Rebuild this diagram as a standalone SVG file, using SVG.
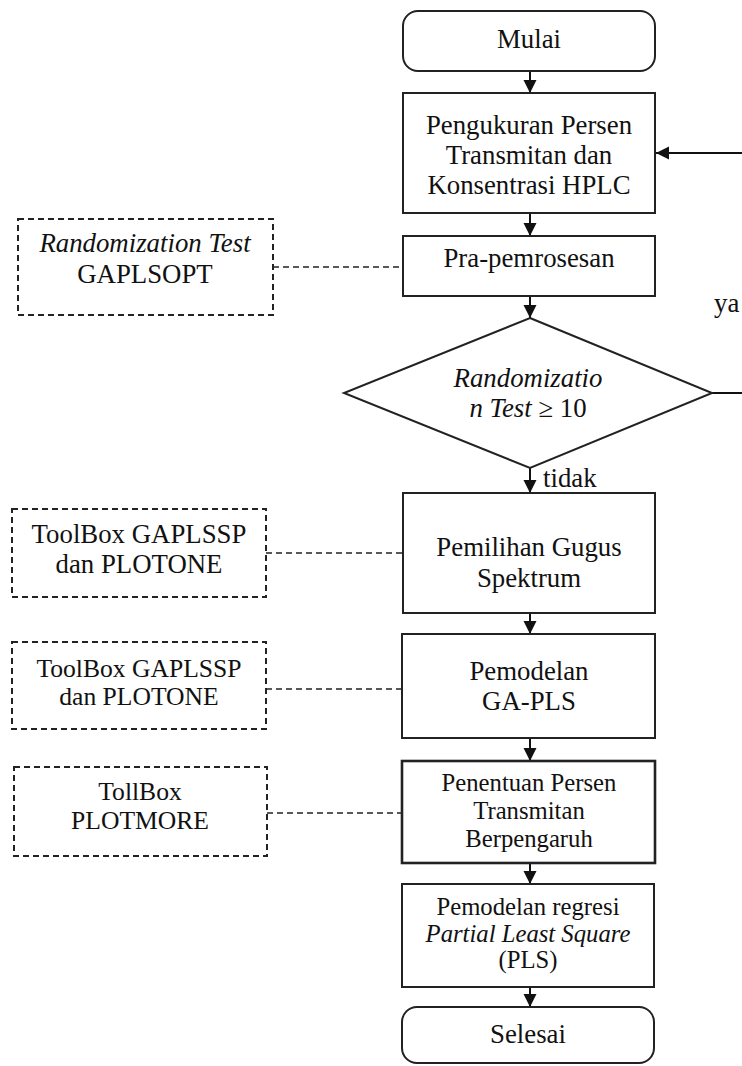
<svg xmlns="http://www.w3.org/2000/svg" width="742" height="1066" viewBox="0 0 742 1066">
<style>
text{font-family:"Liberation Serif","Times New Roman",serif;fill:#111;text-anchor:middle;font-size:26.8px}
.it{font-style:italic}
.s24{font-size:24.7px}
.s25{font-size:25.6px}
.box{fill:#fff;stroke:#222;stroke-width:2}
.dbox{fill:#fff;stroke:#222;stroke-width:2;stroke-dasharray:6 4}
.ln{fill:none;stroke:#111;stroke-width:2}
.dl{fill:none;stroke:#222;stroke-width:1.6;stroke-dasharray:6 4}
</style>
<defs>
<marker id="ah" markerUnits="userSpaceOnUse" markerWidth="14" markerHeight="14" refX="13" refY="6.5" orient="auto">
<path d="M0,0 L13,6.5 L0,13 z" fill="#111"/>
</marker>
</defs>
<rect width="742" height="1066" fill="#fff"/>
<g id="connectors">
<line class="ln" x1="530" y1="71" x2="530" y2="93" marker-end="url(#ah)"/>
<line class="ln" x1="530" y1="213" x2="530" y2="236" marker-end="url(#ah)"/>
<line class="ln" x1="530" y1="296" x2="530" y2="318" marker-end="url(#ah)"/>
<line class="ln" x1="530" y1="468" x2="530" y2="493" marker-end="url(#ah)"/>
<line class="ln" x1="530" y1="613" x2="530" y2="634" marker-end="url(#ah)"/>
<line class="ln" x1="530" y1="738" x2="530" y2="761" marker-end="url(#ah)"/>
<line class="ln" x1="530" y1="863" x2="530" y2="884" marker-end="url(#ah)"/>
<line class="ln" x1="530" y1="987" x2="530" y2="1007" marker-end="url(#ah)"/>
<path class="ln" d="M712,393 H760 V153 H656" marker-end="url(#ah)"/>
<text x="714" y="312" style="text-anchor:start">ya</text>
<text x="543" y="487" style="text-anchor:start">tidak</text>
<line class="dl" x1="273" y1="267" x2="403" y2="267"/>
<line class="dl" x1="266" y1="553" x2="403" y2="553"/>
<line class="dl" x1="266" y1="689" x2="402" y2="689"/>
<line class="dl" x1="267" y1="813" x2="402" y2="813"/>
</g>
<g id="mulai">
<rect class="box" x="403" y="11" width="252" height="60" rx="15"/>
<text x="529" y="48">Mulai</text>
</g>
<g id="pengukuran">
<rect class="box" x="403" y="93" width="252" height="120"/>
<text x="529" y="134">Pengukuran Persen</text>
<text x="529" y="164">Transmitan dan</text>
<text x="529" y="194">Konsentrasi HPLC</text>
</g>
<g id="pra">
<rect class="box" x="403" y="236" width="252" height="60"/>
<text x="529" y="267">Pra-pemrosesan</text>
</g>
<g id="decision">
<polygon class="box" points="530,318 712,393 530,468 344,393"/>
<text x="528" y="387" class="it">Randomizatio</text>
<text x="528" y="417"><tspan class="it">n Test</tspan> ≥ 10</text>
</g>
<g id="pemilihan">
<rect class="box" x="403" y="493" width="252" height="120"/>
<text x="529" y="556">Pemilihan Gugus</text>
<text x="529" y="587">Spektrum</text>
</g>
<g id="pemodelan">
<rect class="box" x="402" y="634" width="253" height="104"/>
<text x="529" y="680">Pemodelan</text>
<text x="529" y="710">GA-PLS</text>
</g>
<g id="penentuan">
<rect class="box" x="402" y="761" width="253" height="102" style="stroke-width:2.6"/>
<text x="529" y="791" class="s24">Penentuan Persen</text>
<text x="529" y="819" class="s24">Transmitan</text>
<text x="529" y="847" class="s24">Berpengaruh</text>
</g>
<g id="pls">
<rect class="box" x="402" y="884" width="252" height="103"/>
<text x="528" y="915" class="s24">Pemodelan regresi</text>
<text x="528" y="942" class="s24 it">Partial Least Square</text>
<text x="528" y="968" class="s24">(PLS)</text>
</g>
<g id="selesai">
<rect class="box" x="402" y="1007" width="252" height="56" rx="15"/>
<text x="528" y="1043">Selesai</text>
</g>
<g id="note-randomization">
<rect class="dbox" x="18" y="219" width="255" height="96"/>
<text x="145" y="252" class="it">Randomization Test</text>
<text x="145" y="283">GAPLSOPT</text>
</g>
<g id="note-toolbox1">
<rect class="dbox" x="12" y="509" width="254" height="88"/>
<text x="139" y="543">ToolBox GAPLSSP</text>
<text x="139" y="573">dan PLOTONE</text>
</g>
<g id="note-toolbox2">
<rect class="dbox" x="12" y="642" width="254" height="87"/>
<text x="139" y="677" class="s25">ToolBox GAPLSSP</text>
<text x="139" y="705" class="s25">dan PLOTONE</text>
</g>
<g id="note-tollbox">
<rect class="dbox" x="14" y="767" width="253" height="89"/>
<text x="140" y="800" class="s25">TollBox</text>
<text x="140" y="829" class="s25">PLOTMORE</text>
</g>
</svg>
